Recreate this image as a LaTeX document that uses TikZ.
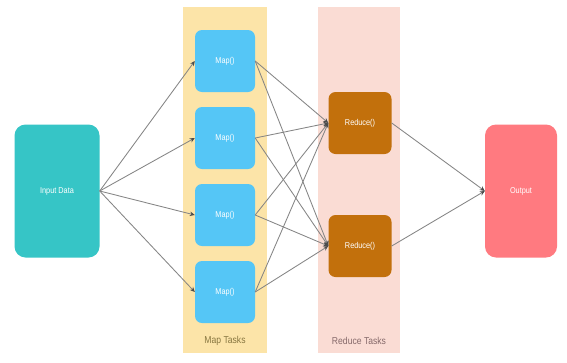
\documentclass[tikz,border=0pt]{standalone}
\usepackage{fontspec}
\setmainfont{Liberation Sans}
\newfontfamily\condfont[FakeStretch=0.86]{Liberation Sans}
\usetikzlibrary{arrows.meta}
\definecolor{inputc}{HTML}{36C5C6}
\definecolor{mapc}{HTML}{55C6F6}
\definecolor{mapbg}{HTML}{FCE4A8}
\definecolor{redbg}{HTML}{FADCD4}
\definecolor{redc}{HTML}{C2700C}
\definecolor{outc}{HTML}{FF7A80}
\definecolor{linec}{HTML}{858585}
\definecolor{maplabelc}{HTML}{877640}
\definecolor{redlabelc}{HTML}{85696A}
\tikzset{
  box/.style={rounded corners=7pt, inner sep=0pt, text=white, font=\condfont\fontsize{8.5}{9}\selectfont},
  endbox/.style={box, minimum width=85pt, minimum height=133pt, rounded corners=11pt},
  mapbox/.style={box, fill=mapc, minimum width=60pt, minimum height=62pt},
  redbox/.style={box, fill=redc, minimum width=63pt, minimum height=62pt},
  column/.style={inner sep=0pt, minimum width=84pt, minimum height=346pt},
  collabel/.style={font=\condfont\fontsize{10}{11}\selectfont},
  flow/.style={draw=linec, line width=0.85pt, -{Stealth[length=5pt,width=4.5pt,color=black!70]}}
}
\begin{document}
\begin{tikzpicture}[x=1pt,y=-1pt]
  \fill[white] (0,0) rectangle (567,362);
  \useasboundingbox (0,0) rectangle (567,362);

  % stage columns
  \node[column, fill=mapbg] (mapcol) at (225,180) {};
  \node[column, fill=redbg, minimum width=82pt] (redcol) at (359,180) {};
  \node[collabel, text=maplabelc] (maplabel) at (225,341) {Map Tasks};
  \node[collabel, text=redlabelc] (redlabel) at (359,341) {Reduce Tasks};

  % input and output
  \node[endbox, fill=inputc] (in) at (57,191) {Input Data};
  \node[endbox, fill=outc, minimum width=72pt] (out) at (521,191) {Output};

  % map tasks
  \node[mapbox] (m1) at (225,61) {Map()};
  \node[mapbox] (m2) at (225,138) {Map()};
  \node[mapbox] (m3) at (225,215) {Map()};
  \node[mapbox] (m4) at (225,292) {Map()};

  % reduce tasks
  \node[redbox] (r1) at (360,123) {Reduce()};
  \node[redbox] (r2) at (360,246) {Reduce()};

  % data flow
  \foreach \m in {m1,m2,m3,m4} {
    \draw[flow] (in.east) -- (\m.west);
    \draw[flow] (\m.east) -- (r1.west);
    \draw[flow] (\m.east) -- (r2.west);
  }
  \draw[flow] (r1.east) -- (out.west);
  \draw[flow] (r2.east) -- (out.west);
\end{tikzpicture}
\end{document}
